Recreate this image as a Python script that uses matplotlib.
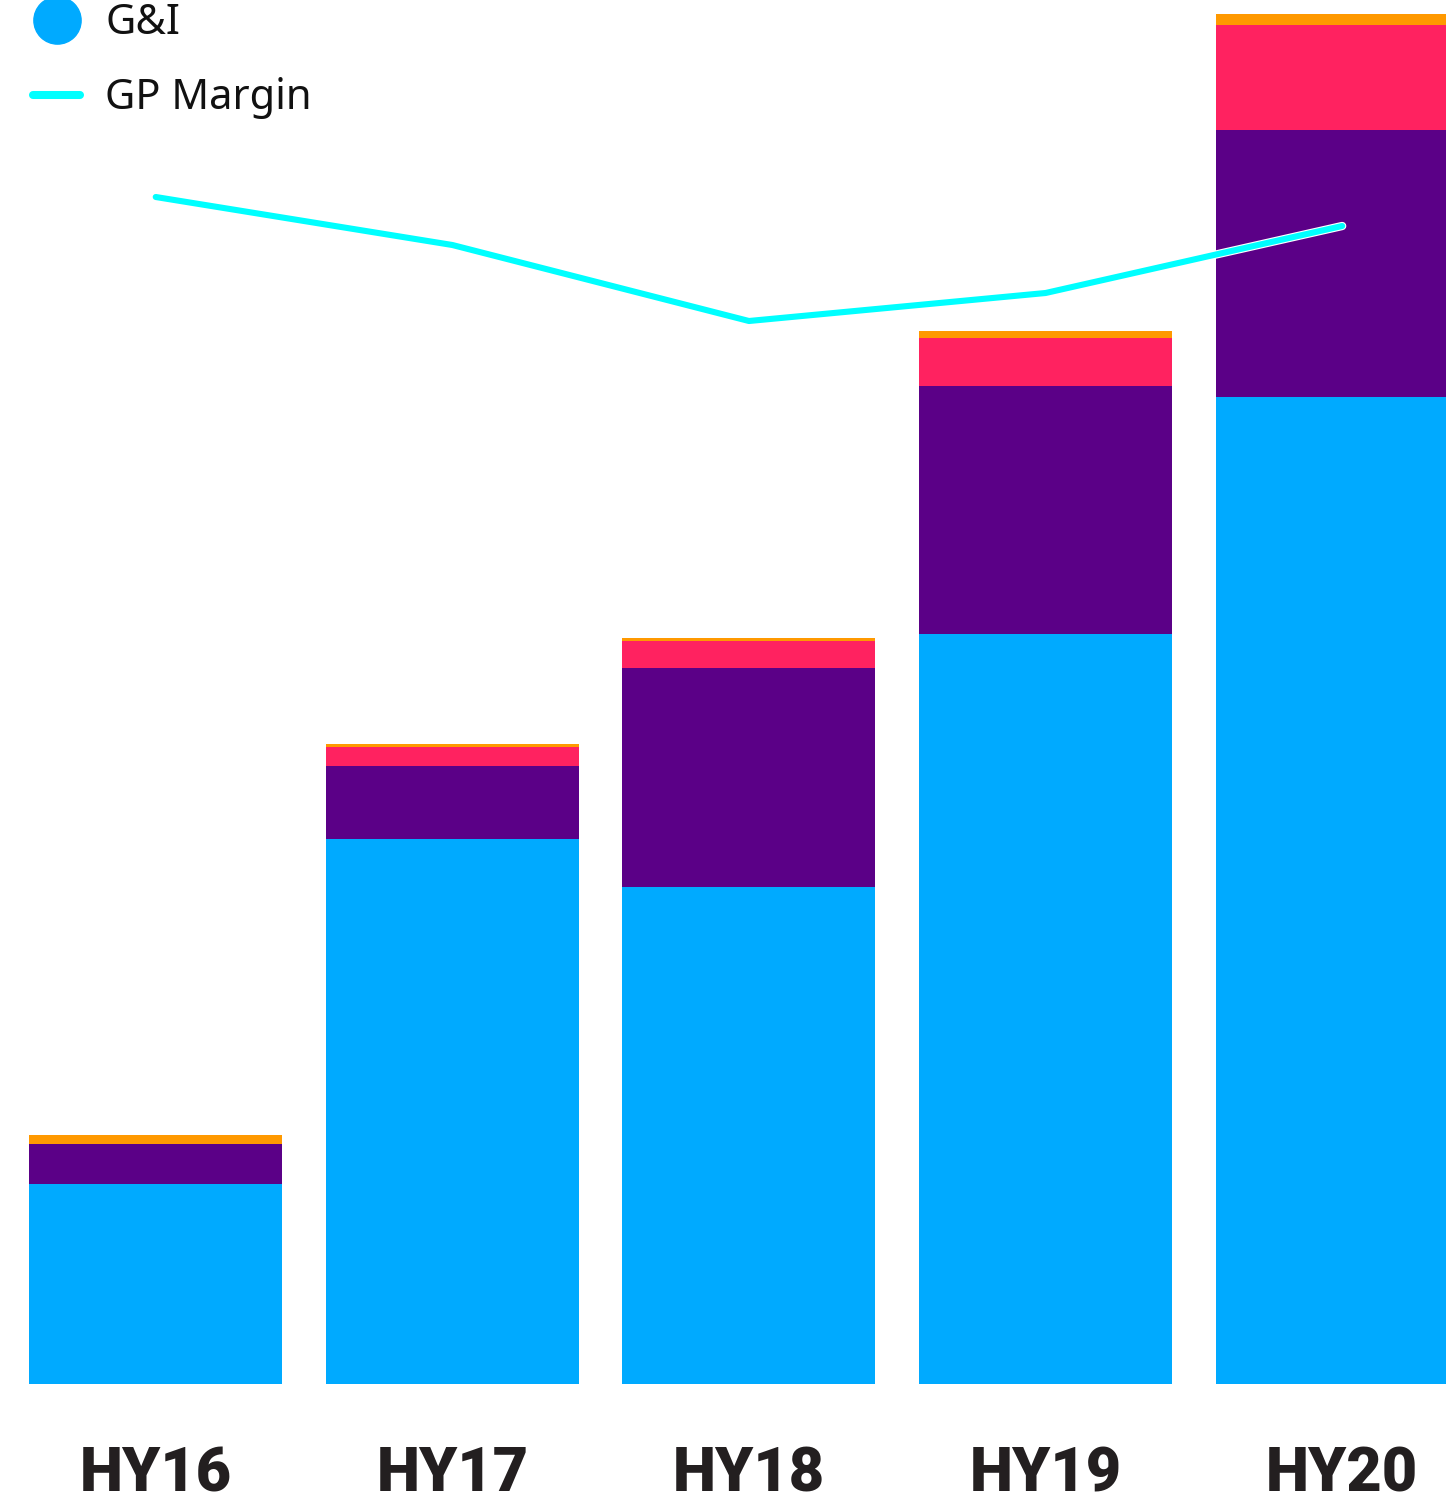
import matplotlib
matplotlib.use("Agg")
import matplotlib.pyplot as plt
import matplotlib.patheffects as pe
from matplotlib.lines import Line2D
import numpy as np

# ---- data (arbitrary units) ----
periods = ["HY16", "HY17", "HY18", "HY19", "HY20"]
gi = [20.0, 54.5, 49.7, 75.0, 98.7]          # blue segment (G&I)
seg2 = [4.0, 7.3, 21.9, 24.8, 26.7]          # purple segment
seg3 = [0.0, 1.9, 2.7, 4.8, 10.5]            # pink segment
seg4 = [0.9, 0.3, 0.3, 0.7, 1.1]             # orange segment
gp_margin = [118.7, 113.9, 106.3, 109.1, 115.8]  # GP margin line (same scale)

c_blue = "#00AAFF"
c_purple = "#5B0087"
c_pink = "#FF2260"
c_orange = "#FF9900"
c_cyan = "#00FFFF"

W, H = 1446, 1503
fig = plt.figure(figsize=(W / 100, H / 100), dpi=100)
ax = fig.add_axes([0, (H - 1384) / H, 1, 1384 / H])

x = np.arange(len(periods))
width = 0.853
bottom = np.zeros(len(periods))
for vals, col in [(gi, c_blue), (seg2, c_purple), (seg3, c_pink), (seg4, c_orange)]:
    ax.bar(x, vals, width=width, bottom=bottom, color=col, linewidth=0, zorder=2)
    bottom += np.array(vals)

ax.plot(x, gp_margin, color=c_cyan, lw=4.4, solid_capstyle="round",
        solid_joinstyle="round", zorder=5,
        path_effects=[pe.Stroke(linewidth=6.0, foreground="white"), pe.Normal()])

ax.set_xlim(-0.525, 4.35)
ax.set_ylim(0, 138.4)
ax.set_xticks(x)
ax.set_xticklabels(periods, fontsize=44, fontweight="black", family="Roboto",
                   color="#231F20")
ax.tick_params(axis="x", length=0, pad=44)
ax.set_yticks([])
for s in ax.spines.values():
    s.set_visible(False)

# ---- legend (partially cut at top, as in reference) ----
fig.add_artist(Line2D([57 / W], [1 - 20 / H], marker="o", markersize=34,
                      color=c_blue, linestyle="none", transform=fig.transFigure))
fig.add_artist(Line2D([33 / W, 80 / W], [1 - 95 / H, 1 - 95 / H], lw=5.8,
                      color=c_cyan, solid_capstyle="round", transform=fig.transFigure))
fig.text(105 / W, 1 - 34 / H, "G&I", fontsize=30, family="Noto Sans",
         va="baseline", ha="left", color="#111111")
fig.text(105 / W, 1 - 109 / H, "GP Margin", fontsize=30, family="Noto Sans",
         va="baseline", ha="left", color="#111111")

fig.savefig("out.png", dpi=100, facecolor="white")
